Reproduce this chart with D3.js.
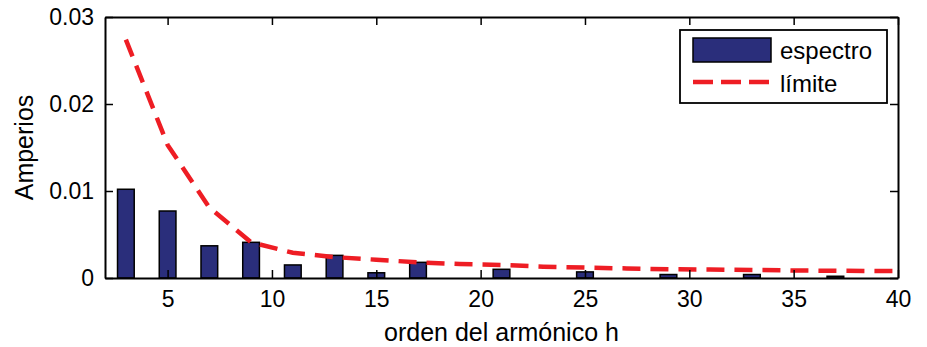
<!DOCTYPE html>
<html>
<head>
<meta charset="utf-8">
<script src="https://cdn.jsdelivr.net/npm/d3@7"></script>
<style>
  html, body { margin: 0; padding: 0; background: #fff; }
  svg { display: block; }
  text { font-family: "Liberation Sans", Arial, Helvetica, sans-serif; fill: #000; }
</style>
</head>
<body>
<svg id="chart" width="927" height="347"></svg>
<script>
// ---- data ----
const harmonics = [2,3,4,5,6,7,8,9,10,11,12,13,14,15,16,17,18,19,20,21,22,23,24,25,26,27,28,29,30,31,32,33,34,35,36,37,38,39,40];
const spectrum  = [0,0.0102,0,0.0077,0,0.0037,0,0.0041,0,0.0015,0,0.0026,0,0.0006,0,0.0018,0,0,0,0.0010,0,0,0,0.0007,0,0,0,0.0004,0,0,0,0.0004,0,0,0,0.0002,0,0,0];
const limitH = [3,5,7,9,11,13,15,17,19,21,23,25,27,29,31,33,35,37,39,40];
const limitV = [0.0274,0.0153,0.0081,0.0041,0.0029,0.0024,0.0021,0.0018,0.0016,0.0015,0.0013,0.0012,0.0011,0.0010,0.00097,0.00093,0.00087,0.00083,0.0008,0.0008];
const xTicks = [5,10,15,20,25,30,35,40];
const yTicks = [0,0.01,0.02,0.03];
const yTickLabels = ["0","0.01","0.02","0.03"];
const legendLabels = ["espectro","límite"];
const xLabel = "orden del armónico h";
const yLabel = "Amperios";

// ---- layout ----
const L = 105, R = 898, T = 17, B = 278;
const barColor = "#2A2E7B";
const limitColor = "#EE1D24";

const svg = d3.select("#chart");
const x = d3.scaleLinear().domain([2,40]).range([L,R]);
const y = d3.scaleLinear().domain([0,0.03]).range([B,T]);

svg.append("defs").append("clipPath").attr("id","clip")
  .append("rect").attr("x",L).attr("y",T).attr("width",R-L).attr("height",B-T);

const plot = svg.append("g").attr("clip-path","url(#clip)");

// bars
const data = harmonics.map((h,i)=>({h, v: spectrum[i]}));
plot.selectAll("rect.bar").data(data).enter().append("rect")
  .attr("class","bar")
  .attr("x", d => x(d.h - 0.4))
  .attr("width", d => x(d.h + 0.4) - x(d.h - 0.4))
  .attr("y", d => y(d.v))
  .attr("height", d => y(0) - y(d.v))
  .attr("fill", barColor)
  .attr("stroke", "#000")
  .attr("stroke-width", 1.5);

// limit line
const lim = limitH.map((h,i)=>({h, v: limitV[i]}));
plot.append("path").datum(lim)
  .attr("d", d3.line().x(d=>x(d.h)).y(d=>y(d.v)))
  .attr("fill","none")
  .attr("stroke",limitColor)
  .attr("stroke-width",4.5)
  .attr("stroke-dasharray","18,10");

// axes: box + inward ticks
const tl = 8;
const axG = svg.append("g");
const xb = d3.axisBottom(x).tickValues(xTicks).tickSizeInner(-tl).tickSizeOuter(0).tickFormat(d3.format("d"));
const xt = d3.axisTop(x).tickValues(xTicks).tickSizeInner(-tl).tickSizeOuter(0).tickFormat("");
const yl = d3.axisLeft(y).tickValues(yTicks).tickSizeInner(-tl).tickSizeOuter(0).tickFormat((d,i)=>yTickLabels[i]);
const yr = d3.axisRight(y).tickValues(yTicks).tickSizeInner(-tl).tickSizeOuter(0).tickFormat("");

function style(g){
  g.select(".domain").attr("stroke","#000").attr("stroke-width",2);
  g.selectAll(".tick line").attr("stroke","#000").attr("stroke-width",1.5);
  g.selectAll(".tick text").attr("fill","#000").style("font-family",'"Liberation Sans", Arial, sans-serif').style("font-size","23px");
}
axG.append("g").attr("transform",`translate(0,${B})`).call(xb).call(style)
  .selectAll(".tick text").attr("y",13).attr("dy","0.71em");
axG.append("g").attr("transform",`translate(0,${T})`).call(xt).call(style);
axG.append("g").attr("transform",`translate(${L},0)`).call(yl).call(style)
  .selectAll(".tick text").attr("x",-11);
axG.append("g").attr("transform",`translate(${R},0)`).call(yr).call(style);

// axis labels
svg.append("text").attr("x",(L+R)/2).attr("y",341)
  .attr("text-anchor","middle").style("font-size","25px").text(xLabel);
svg.append("text").attr("transform",`translate(33,${(T+B)/2}) rotate(-90)`)
  .attr("text-anchor","middle").style("font-size","25px").text(yLabel);

// legend
const lg = svg.append("g");
lg.append("rect").attr("x",680).attr("y",30).attr("width",207).attr("height",73)
  .attr("fill","#fff").attr("stroke","#000").attr("stroke-width",1.8);
lg.append("rect").attr("x",693).attr("y",38).attr("width",78).attr("height",24)
  .attr("fill",barColor).attr("stroke","#000").attr("stroke-width",1.5);
lg.append("line").attr("x1",693).attr("x2",772).attr("y1",82).attr("y2",82)
  .attr("stroke",limitColor).attr("stroke-width",4.5).attr("stroke-dasharray","20,8");
lg.append("text").attr("x",780).attr("y",59).style("font-size","24px").text(legendLabels[0]);
lg.append("text").attr("x",780).attr("y",92).style("font-size","24px").text(legendLabels[1]);
</script>
</body>
</html>
